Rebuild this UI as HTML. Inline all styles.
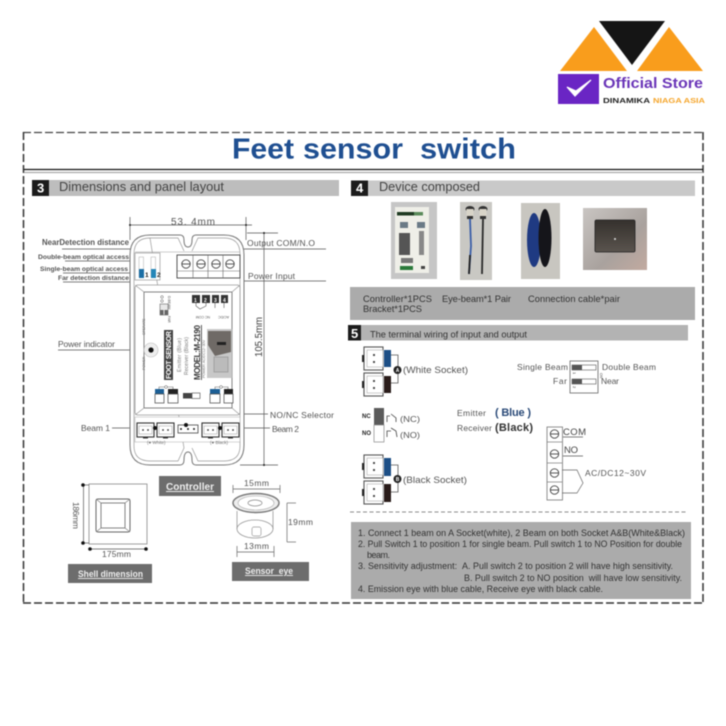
<!DOCTYPE html>
<html><head><meta charset="utf-8"><style>
html,body{margin:0;padding:0;background:#fff}
svg{display:block;filter:blur(.45px)}
text{font-family:"Liberation Sans",sans-serif;fill:#555}
</style></head><body>
<svg width="726" height="726" viewBox="0 0 726 726" xmlns="http://www.w3.org/2000/svg">
<defs>
<linearGradient id="st" x1="0" y1="0" x2="1" y2="1"><stop offset="0" stop-color="#c9c5c2"/><stop offset=".6" stop-color="#a9a29e"/><stop offset="1" stop-color="#c2aaa0"/></linearGradient>
<linearGradient id="wl" x1="0" y1="0" x2="0" y2="1"><stop offset="0" stop-color="#35312d"/><stop offset="1" stop-color="#5a544e"/></linearGradient>
<g id="sock"><rect x="0" y="0" width="17" height="14" fill="#fff" stroke="#333" stroke-width="1.1"/><rect x="2" y="3" width="13" height="8" fill="#fff" stroke="#999" stroke-width=".5"/><circle cx="6" cy="7" r=".9" fill="#333"/><circle cx="11" cy="7" r=".9" fill="#333"/><rect x="6" y="14" width="5" height="1.5" fill="#333"/></g>
<g id="sock2"><rect x="0" y="0" width="19" height="23" fill="#fff" stroke="#555" stroke-width="1.1"/><rect x="3" y="3" width="16" height="17" fill="#fff" stroke="#aaa" stroke-width=".6"/><circle cx="10" cy="8" r="1.1" fill="#444"/><circle cx="10" cy="15" r="1.1" fill="#444"/><rect x="-2" y="8" width="2" height="7" fill="#222"/></g>
<g id="scr"><circle r="4.2" fill="#fff" stroke="#444" stroke-width=".9"/><line x1="-4" x2="4" stroke="#444" stroke-width=".9"/></g>
</defs>

<!-- logo -->
<polygon points="560,71 594,27 627,71" fill="#f99d1c"/>
<polygon points="637,71 669,27 703,71" fill="#f99d1c"/>
<polygon points="599,21 665,21 632,65" fill="#151515"/>
<rect x="558" y="74" width="41" height="30" fill="#6a25c4"/>
<path d="M567,87 L575,96 L591,80 L576,91Z" fill="#fff" stroke="#fff" stroke-width="1.2"/>
<text x="603" y="88" font-size="15" font-weight="700" style="fill:#6a35b8" textLength="100" lengthAdjust="spacingAndGlyphs">Official Store</text>
<text x="603" y="103" font-size="7.500" font-weight="700" style="fill:#222" textLength="47" lengthAdjust="spacingAndGlyphs">DINAMIKA</text>
<text x="653" y="103" font-size="7.500" font-weight="700" style="fill:#f5a52a" textLength="52" lengthAdjust="spacingAndGlyphs">NIAGA ASIA</text>

<!-- frame -->
<line x1="23" y1="132.500" x2="703" y2="132.500" stroke="#444" stroke-width="1.300" stroke-dasharray="8 3"/>
<line x1="23" y1="603" x2="703" y2="603" stroke="#333" stroke-width="1.500" stroke-dasharray="8 3"/>
<line x1="23.500" y1="132" x2="23.500" y2="603" stroke="#333" stroke-width="1.500" stroke-dasharray="8 3"/>
<line x1="703" y1="132" x2="703" y2="603" stroke="#333" stroke-width="1.500" stroke-dasharray="8 3"/>
<line x1="24" y1="169.500" x2="703" y2="169.500" stroke="#111" stroke-width="1.300"/>
<line x1="24" y1="172.500" x2="703" y2="172.500" stroke="#aaa" stroke-width="1.300"/>
<g font-size="28.500" font-weight="700" style="fill:#1f4f91">
<text x="232" y="158.500" style="fill:#1f4f91" textLength="62" lengthAdjust="spacingAndGlyphs">Feet</text>
<text x="303" y="158.500" style="fill:#1f4f91" textLength="100" lengthAdjust="spacingAndGlyphs">sensor</text>
<text x="420" y="158.500" style="fill:#1f4f91" textLength="96" lengthAdjust="spacingAndGlyphs">switch</text>
</g>

<!-- section 3 -->
<rect x="49" y="180" width="290" height="16" fill="#bdbdbd"/>
<rect x="32" y="180" width="17" height="16" fill="#1c1c1c"/>
<text x="37" y="192.500" font-size="13" font-weight="700" style="fill:#fff">3</text>
<text x="59" y="191" font-size="12.500" textLength="165" lengthAdjust="spacingAndGlyphs" style="fill:#444">Dimensions and panel layout</text>

<!-- dim lines -->
<g stroke="#555" stroke-width=".7" fill="none">
<line x1="130" y1="225" x2="252" y2="225"/><line x1="130" y1="217" x2="130" y2="240"/><line x1="246" y1="217" x2="246" y2="240"/>
<line x1="247" y1="233" x2="278" y2="233"/><line x1="240" y1="465" x2="278" y2="465"/><line x1="264" y1="233" x2="264" y2="465"/>
<polyline points="62,249 153,249 153,258"/>
<polyline points="65,261 140,261"/>
<polyline points="63,273 140,273"/>
<polyline points="63,282 153,282 153,276"/>
<polyline points="193,249 326,249"/>
<polyline points="223,272 223,281 326,281"/>
<polyline points="58,350 148,350"/>
<polyline points="186,425 186,414 268,414"/>
<polyline points="112,428 154,428"/>
<polyline points="220,428 270,428"/>
</g>
<circle cx="130" cy="225" r="1" fill="#222"/><circle cx="246" cy="225" r="1" fill="#222"/><circle cx="264" cy="233" r="1" fill="#222"/><circle cx="264" cy="465" r="1" fill="#222"/>
<g font-weight="700">
<text x="42" y="245" font-size="8" textLength="87" lengthAdjust="spacingAndGlyphs">NearDetection distance</text>
<text x="38" y="259" font-size="6.600" textLength="91" lengthAdjust="spacingAndGlyphs">Double-beam optical access</text>
<text x="40" y="271" font-size="6.600" textLength="88" lengthAdjust="spacingAndGlyphs">Single-beam optical access</text>
<text x="58" y="280" font-size="6.600" textLength="71" lengthAdjust="spacingAndGlyphs">Far detection distance</text>
</g>
<text x="247" y="246" font-size="8.500" textLength="68">Output COM/N.O</text>
<text x="248" y="279" font-size="8.500" textLength="47">Power Input</text>
<text x="58" y="347" font-size="8.500" textLength="57">Power indicator</text>
<text x="270" y="418" font-size="8.500" textLength="64">NO/NC Selector</text>
<text x="81" y="431" font-size="8.500" textLength="29">Beam 1</text>
<text x="272" y="432" font-size="8.500" textLength="27">Beam 2</text>
<text x="171" y="225" font-size="10" textLength="44">53. 4mm</text>
<text transform="translate(262,357) rotate(-90)" font-size="10" textLength="40" lengthAdjust="spacingAndGlyphs" style="fill:#444">105.5mm</text>

<!-- controller -->
<path d="M150,235H180Q184,235 184,240Q184,247 188,247Q192,247 192,240Q192,235 196,235H224Q244,235 244,255V445Q244,465 224,465H196Q192,465 192,460Q192,452 188,452Q184,452 184,460Q184,465 180,465H150Q130,465 130,445V255Q130,235 150,235Z" fill="#fff" stroke="#777" stroke-width="1"/>
<path d="M150,238H178L184,251 M192,251 L198,238H224Q240,238 240,254V446Q240,461 224,461H198L192,448 M184,448L178,461H150Q134,461 134,446V254Q134,238 150,238Z" fill="none" stroke="#999" stroke-width=".7"/>
<line x1="135" y1="252" x2="240" y2="252" stroke="#999" stroke-width=".6"/>
<!-- dip -->
<rect x="135" y="253" width="25" height="27" fill="#fff" stroke="#999" stroke-width=".7"/>
<rect x="139" y="257" width="4.500" height="20" fill="#fff" stroke="#aaa" stroke-width=".5"/>
<rect x="151" y="257" width="4.500" height="20" fill="#fff" stroke="#aaa" stroke-width=".5"/>
<rect x="139" y="269" width="5" height="9" fill="#1c6fa5"/>
<rect x="151" y="269" width="5" height="9" fill="#2486b8"/>
<text x="145" y="277" font-size="6.500" font-weight="700" style="fill:#222">1</text>
<text x="157" y="277" font-size="6.500" font-weight="700" style="fill:#222">2</text>
<!-- terminal block -->
<rect x="177" y="255" width="63" height="23" fill="#fff" stroke="#444" stroke-width=".9"/>
<line x1="177" y1="271" x2="240" y2="271" stroke="#666" stroke-width=".6"/>
<line x1="193" y1="255" x2="193" y2="278" stroke="#666" stroke-width=".6"/>
<line x1="208" y1="255" x2="208" y2="278" stroke="#666" stroke-width=".6"/>
<line x1="223" y1="255" x2="223" y2="278" stroke="#666" stroke-width=".6"/>
<use href="#scr" x="186" y="264"/><use href="#scr" x="201" y="264"/><use href="#scr" x="216" y="264"/><use href="#scr" x="230" y="264"/>
<!-- panel -->
<path d="M137,285H238L240,287V413L238,415H137L135,413V287Z" fill="#fff" stroke="#999" stroke-width=".8"/>
<rect x="144" y="292" width="88" height="116" fill="#fff" stroke="#666" stroke-width=".8"/>
<g stroke="#999" stroke-width=".7"><line x1="135" y1="285" x2="144" y2="292"/><line x1="240" y1="285" x2="232" y2="292"/><line x1="135" y1="415" x2="144" y2="408"/><line x1="240" y1="415" x2="232" y2="408"/></g>
<!-- power led -->
<circle cx="151" cy="350" r="7" fill="#eee" stroke="#bbb" stroke-width=".6"/>
<circle cx="151" cy="350" r="2.600" fill="#111"/>
<!-- small switch -->
<circle cx="162" cy="297" r="1.300" fill="none" stroke="#555" stroke-width=".5"/><circle cx="162" cy="301" r="1.300" fill="none" stroke="#555" stroke-width=".5"/>
<rect x="160" y="304" width="8" height="11" fill="#e8e8e8" stroke="#666" stroke-width=".6"/>
<rect x="160" y="310" width="3.500" height="5" fill="#666"/><rect x="164.500" y="310" width="3.500" height="5" fill="#666"/>
<text transform="translate(168,296) rotate(90)" font-size="3.500" style="fill:#555">D.BEAM</text>
<text transform="translate(168,316) rotate(90)" font-size="3.500" style="fill:#555">FAR</text>
<!-- terminals -->
<g fill="#333"><rect x="192" y="295" width="8" height="8"/><rect x="202" y="295" width="8" height="8"/><rect x="212" y="295" width="7" height="8"/><rect x="221" y="295" width="7" height="8"/></g>
<g font-size="5" font-weight="700"><text x="194" y="302" style="fill:#fff">1</text><text x="204" y="302" style="fill:#fff">2</text><text x="214" y="302" style="fill:#fff">3</text><text x="223" y="302" style="fill:#fff">4</text></g>
<polyline points="196,303 196,306 200,309 206,306 206,303" fill="none" stroke="#555" stroke-width=".6"/>
<line x1="215" y1="303" x2="215" y2="308" stroke="#555" stroke-width=".6"/><line x1="224" y1="303" x2="224" y2="308" stroke="#555" stroke-width=".6"/>
<text transform="translate(210,316) rotate(180)" font-size="3.500" style="fill:#555">NC COM</text>
<text transform="translate(229,316) rotate(180)" font-size="3.500" style="fill:#555">AC/DC</text>
<!-- vertical text -->
<rect x="164" y="330" width="9" height="50" fill="#444"/>
<text transform="translate(171,379) rotate(-90)" font-size="7" font-weight="700" textLength="48" style="fill:#fff">FOOT SENSOR</text>
<text transform="translate(181,372) rotate(-90)" font-size="5" textLength="34" style="fill:#777">Emitter (Blue)</text>
<text transform="translate(188,375) rotate(-90)" font-size="5" textLength="38" style="fill:#777">Receiver (Black)</text>
<text transform="translate(200,380) rotate(-90)" font-size="8" font-weight="700" textLength="55" style="fill:#333;text-decoration:underline">MODEL:M-2190</text>
<text transform="translate(205,378) rotate(-90)" font-size="3.800" textLength="38" style="fill:#777">POWER: AC/DC12~30V</text>
<text transform="translate(145,335) rotate(-90)" font-size="3.500" style="fill:#666">OPERATE</text>
<text transform="translate(145,370) rotate(-90)" font-size="3.500" style="fill:#666">POWER</text>
<!-- panel photo -->
<rect x="207" y="329" width="25" height="49" fill="#c8c8c8"/>
<polygon points="208,331 231,331 231,352 215,356 208,345" fill="#6f6a66"/>
<rect x="217" y="342" width="9" height="3" fill="#222"/>
<rect x="214" y="357" width="14" height="15" fill="#bbb" stroke="#999" stroke-width=".8"/>
<!-- panel sockets -->
<rect x="155" y="389" width="9" height="5" fill="#1c5f95"/><rect x="168" y="389" width="10" height="5" fill="#222"/>
<rect x="210" y="389" width="10" height="5" fill="#1c5f95"/><rect x="224" y="389" width="9" height="5" fill="#222"/>
<rect x="155" y="394" width="9" height="9" fill="#fff" stroke="#444" stroke-width=".7"/><rect x="168" y="394" width="10" height="9" fill="#fff" stroke="#444" stroke-width=".7"/>
<rect x="210" y="394" width="10" height="9" fill="#fff" stroke="#444" stroke-width=".7"/><rect x="224" y="394" width="9" height="9" fill="#fff" stroke="#444" stroke-width=".7"/>
<polyline points="159,389 159,387 173,387 173,389" fill="none" stroke="#666" stroke-width=".6"/>
<polyline points="215,389 215,387 228,387 228,389" fill="none" stroke="#666" stroke-width=".6"/>
<circle cx="166" cy="387" r="1.400" fill="#fff" stroke="#555" stroke-width=".5"/><circle cx="221" cy="387" r="1.400" fill="#fff" stroke="#555" stroke-width=".5"/>
<rect x="183" y="393" width="9" height="5.500" fill="#444"/><rect x="192" y="393" width="8" height="5.500" fill="#fff" stroke="#444" stroke-width=".6"/>
<!-- bottom row -->
<rect x="135" y="417" width="105" height="25" fill="#fff" stroke="#aaa" stroke-width=".5"/>
<use href="#sock" x="137" y="423"/><use href="#sock" x="157" y="423"/><use href="#sock" x="202" y="423"/><use href="#sock" x="222" y="423"/>
<rect x="178" y="425" width="20" height="8" fill="#fff" stroke="#444" stroke-width=".8"/>
<circle cx="181" cy="429" r="1" fill="#222"/><circle cx="188" cy="429" r="1" fill="#222"/><circle cx="194" cy="429" r="1" fill="#222"/>
<circle cx="186" cy="425" r="2" fill="#111"/><circle cx="155" cy="428" r="2" fill="#111"/><circle cx="220" cy="428" r="2" fill="#111"/>
<text x="147" y="444" font-size="4.500" style="fill:#777">(&#9679; White)</text>
<text x="210" y="444" font-size="4.500" style="fill:#777">(&#9679; Black)</text>

<!-- labels -->
<rect x="159" y="476" width="62" height="20" fill="#6d6d6d"/>
<text x="166" y="490" font-size="10" font-weight="700" textLength="48" lengthAdjust="spacingAndGlyphs" style="fill:#eee;text-decoration:underline">Controller</text>
<rect x="68" y="564" width="84" height="19" fill="#6d6d6d"/>
<text x="78" y="577" font-size="9" font-weight="700" textLength="65" lengthAdjust="spacingAndGlyphs" style="fill:#eee;text-decoration:underline">Shell dimension</text>
<rect x="232" y="562" width="77" height="19" fill="#6d6d6d"/>
<text x="245" y="574" font-size="9" font-weight="700" textLength="48" lengthAdjust="spacingAndGlyphs" style="fill:#eee;text-decoration:underline">Sensor&#160;&#160;eye</text>

<!-- shell -->
<rect x="89" y="484" width="58" height="60" fill="#fff" stroke="#888" stroke-width=".8"/>
<rect x="96" y="499" width="34" height="33" rx="2" fill="#fff" stroke="#666" stroke-width="1"/>
<rect x="101" y="503" width="24" height="25" fill="#fff" stroke="#777" stroke-width=".9"/>
<g stroke="#777" stroke-width=".6"><line x1="96" y1="499" x2="101" y2="503"/><line x1="130" y1="499" x2="125" y2="503"/><line x1="96" y1="532" x2="101" y2="528"/><line x1="130" y1="532" x2="125" y2="528"/></g>
<g stroke="#555" stroke-width=".7"><line x1="83" y1="485" x2="89" y2="485"/><line x1="83" y1="543" x2="89" y2="543"/><line x1="83.500" y1="485" x2="83.500" y2="543"/><line x1="90" y1="549" x2="146" y2="549"/></g>
<circle cx="83" cy="485" r="1.800" fill="#111"/><circle cx="83" cy="543" r="1.800" fill="#111"/><circle cx="90" cy="549" r="1.800" fill="#111"/><circle cx="146" cy="549" r="1.800" fill="#111"/>
<text transform="translate(73,502) rotate(90)" font-size="8.500" textLength="27">186mm</text>
<text x="102" y="557" font-size="8.500" textLength="29">175mm</text>

<!-- sensor eye -->
<text x="244" y="486" font-size="8.500" textLength="25">15mm</text>
<line x1="233" y1="489" x2="280" y2="489" stroke="#666" stroke-width=".7"/>
<line x1="233" y1="485" x2="233" y2="493" stroke="#666" stroke-width=".7"/><line x1="280" y1="485" x2="280" y2="493" stroke="#666" stroke-width=".7"/>
<ellipse cx="255" cy="529" rx="18" ry="9" fill="#fff" stroke="#999" stroke-width=".8"/>
<line x1="237" y1="511" x2="237" y2="529" stroke="#999" stroke-width=".8"/><line x1="273" y1="511" x2="273" y2="529" stroke="#999" stroke-width=".8"/>
<rect x="252" y="527" width="9" height="9" rx="2" fill="#fff" stroke="#999" stroke-width=".7"/>
<ellipse cx="256" cy="503" rx="23" ry="9.500" fill="#eee" stroke="#777" stroke-width="1.400"/>
<ellipse cx="256" cy="503" rx="18" ry="7" fill="#fff" stroke="#aaa" stroke-width=".6"/>
<ellipse cx="255" cy="503" rx="7" ry="3" fill="#fff" stroke="#888" stroke-width=".7"/>
<g stroke="#666" stroke-width=".7"><line x1="287" y1="503" x2="296" y2="503"/><line x1="287" y1="542" x2="296" y2="542"/><line x1="287" y1="503" x2="287" y2="542"/><line x1="237" y1="552" x2="274" y2="552"/><line x1="237" y1="546" x2="237" y2="557"/><line x1="274" y1="546" x2="274" y2="557"/></g>
<text x="288" y="525" font-size="8.500" textLength="25">19mm</text>
<text x="244" y="549" font-size="8.500" textLength="25">13mm</text>

<!-- section 4 -->
<rect x="368" y="180.500" width="327" height="15.500" fill="#c9c9c9"/>
<rect x="351" y="180.500" width="17" height="15.500" fill="#1c1c1c"/>
<text x="356" y="192.500" font-size="13" font-weight="700" style="fill:#fff">4</text>
<text x="379" y="191" font-size="12.500" textLength="101" lengthAdjust="spacingAndGlyphs" style="fill:#444">Device composed</text>
<!-- photos -->
<rect x="391" y="202" width="46" height="77" fill="#c6c6c6"/>
<rect x="395" y="207" width="34" height="66" fill="#efefe8"/>
<rect x="397" y="212" width="17" height="3.500" fill="#1f3a22"/><rect x="414" y="212" width="9" height="3.500" fill="#5a8a5a"/>
<rect x="400" y="222" width="8" height="6" fill="#6a7a86"/><rect x="417" y="222" width="8" height="6" fill="#6a7a86"/>
<rect x="399" y="233" width="11" height="22" fill="#555"/><rect x="419" y="231" width="5" height="24" fill="#888"/>
<rect x="401" y="258" width="12" height="5" fill="#777"/><rect x="400" y="266" width="13" height="4" fill="#2a7a3a"/>
<rect x="421" y="266" width="4" height="3" fill="#444"/>
<rect x="460" y="202" width="32" height="78" fill="#c9c8c3"/>
<ellipse cx="470" cy="209" rx="4.500" ry="3" fill="#333"/><ellipse cx="483" cy="209" rx="4.500" ry="3" fill="#333"/>
<rect x="466.500" y="209" width="7" height="7" fill="#d8d4c8"/><rect x="479.500" y="209" width="7" height="7" fill="#d8d4c8"/>
<rect x="467" y="216" width="6" height="3" fill="#333"/><rect x="480" y="216" width="6" height="3" fill="#333"/>
<path d="M470,219L471,246L469,274" fill="none" stroke="#3a5ea8" stroke-width="1.800"/>
<path d="M470,255L469,274" fill="none" stroke="#222" stroke-width="1.800"/>
<path d="M483,219L482,274" fill="none" stroke="#2a2a2a" stroke-width="1.800"/>
<rect x="521" y="203" width="39" height="76" fill="#c8c6c0"/>
<ellipse cx="534" cy="240" rx="7" ry="27" fill="#1f3a82"/>
<ellipse cx="545" cy="238" rx="6.500" ry="29" fill="#15151a"/>
<rect x="583" y="208" width="64" height="62" fill="url(#st)"/>
<rect x="595" y="220" width="40" height="32" rx="1.500" fill="url(#wl)" stroke="#222" stroke-width=".8"/>
<circle cx="615" cy="239" r="1" fill="#ddd"/>
<!-- composed band -->
<rect x="350" y="287" width="345" height="33" fill="#ababab"/>
<text x="363" y="302" font-size="9.300" textLength="69" style="fill:#333">Controller*1PCS</text>
<text x="442" y="302" font-size="9.300" textLength="69" style="fill:#333">Eye-beam*1 Pair</text>
<text x="528" y="302" font-size="9.300" textLength="92" style="fill:#333">Connection cable*pair</text>
<text x="363" y="312" font-size="9.300" textLength="59" style="fill:#333">Bracket*1PCS</text>

<!-- section 5 -->
<rect x="361" y="325" width="327" height="15.500" fill="#b3b3b3"/>
<rect x="348" y="325" width="13" height="15.500" fill="#1c1c1c"/>
<text x="351" y="338" font-size="13" font-weight="700" style="fill:#fff">5</text>
<text x="370" y="337.500" font-size="9" textLength="157" lengthAdjust="spacingAndGlyphs" style="fill:#333">The terminal wiring of input and output</text>

<!-- sockets A/B -->
<use href="#sock2" x="364" y="347"/><use href="#sock2" x="364" y="373"/><use href="#sock2" x="364" y="455"/><use href="#sock2" x="364" y="481"/>
<rect x="384" y="350" width="7" height="17" fill="#1d4f86"/><rect x="384" y="376" width="7" height="17" fill="#2a1c1a"/>
<rect x="384" y="458" width="7" height="18" fill="#1d4f86"/><rect x="384" y="484" width="7" height="18" fill="#2a1c1a"/>
<polyline points="391,355 398,355 398,383 391,383" fill="none" stroke="#555" stroke-width=".8"/>
<polyline points="391,465 398,465 398,492 391,492" fill="none" stroke="#555" stroke-width=".8"/>
<circle cx="397.500" cy="370" r="4" fill="#222"/><circle cx="397.500" cy="479" r="4" fill="#222"/>
<text x="395.700" y="372" font-size="5" font-weight="700" style="fill:#fff">A</text>
<text x="395.700" y="481" font-size="5" font-weight="700" style="fill:#fff">B</text>
<text x="403" y="373" font-size="9.500" textLength="65" lengthAdjust="spacingAndGlyphs">(White Socket)</text>
<text x="403" y="483" font-size="9.500" textLength="64" lengthAdjust="spacingAndGlyphs">(Black Socket)</text>

<!-- NC NO -->
<text x="362" y="418" font-size="6" font-weight="700" style="fill:#222">NC</text>
<text x="362" y="435" font-size="6" font-weight="700" style="fill:#222">NO</text>
<rect x="374" y="408" width="10" height="17" fill="#5b5b5b"/>
<rect x="374" y="425" width="10" height="17" fill="#fff" stroke="#888" stroke-width=".7"/>
<g fill="none" stroke="#444" stroke-width=".8"><polyline points="387,422 387,416 390,416"/><polyline points="391,414 396,418 396,422"/>
<polyline points="387,437 387,431 391,431"/><polyline points="391,428 396,431 397,437"/></g>
<text x="400" y="422" font-size="8.500" textLength="20" lengthAdjust="spacingAndGlyphs">(NC)</text>
<text x="400" y="438" font-size="8.500" textLength="20" lengthAdjust="spacingAndGlyphs">(NO)</text>
<text x="457" y="416" font-size="8.500" textLength="29">Emitter</text>
<text x="457" y="431" font-size="8.500" textLength="35">Receiver</text>
<text x="495" y="416" font-size="11" font-weight="700" style="fill:#2a4a78" textLength="36">( Blue )</text>
<text x="495" y="431" font-size="11" font-weight="700" style="fill:#333" textLength="38">(Black)</text>

<!-- DIP -->
<text x="517" y="370" font-size="8.500" textLength="51">Single Beam</text>
<text x="553" y="384" font-size="8.500" textLength="14">Far</text>
<rect x="570" y="361" width="28" height="32" fill="#fff" stroke="#666" stroke-width=".8"/>
<rect x="572" y="365" width="24" height="5" fill="#fff" stroke="#555" stroke-width=".6"/><rect x="572" y="365" width="10" height="5" fill="#555"/>
<rect x="572" y="379" width="24" height="5" fill="#fff" stroke="#555" stroke-width=".6"/><rect x="572" y="379" width="10" height="5" fill="#555"/>
<text transform="translate(573,372) rotate(90)" font-size="4" style="fill:#333">1</text>
<text transform="translate(573,386) rotate(90)" font-size="4" style="fill:#333">2</text>
<text transform="translate(600,373) rotate(90)" font-size="3.500" style="fill:#555">ON</text>
<text x="602" y="370" font-size="8.500" textLength="54">Double Beam</text>
<text x="601" y="384" font-size="8.500" textLength="18">Near</text>

<!-- terminal wiring -->
<rect x="547" y="427" width="15.500" height="73" fill="#fff" stroke="#777" stroke-width=".8"/>
<line x1="547" y1="442" x2="562" y2="442" stroke="#777" stroke-width=".7"/><line x1="547" y1="463" x2="562" y2="463" stroke="#777" stroke-width=".7"/><line x1="547" y1="482" x2="562" y2="482" stroke="#777" stroke-width=".7"/>
<use href="#scr" x="554.500" y="434"/><use href="#scr" x="554.500" y="454"/><use href="#scr" x="554.500" y="473"/><use href="#scr" x="554.500" y="490"/>
<text x="563" y="435" font-size="9.500" textLength="23" style="fill:#444">COM</text>
<text x="564" y="453" font-size="9.500" textLength="14" style="fill:#444">NO</text>
<line x1="563" y1="437" x2="583" y2="437" stroke="#555" stroke-width=".8"/><line x1="563" y1="456" x2="583" y2="456" stroke="#555" stroke-width=".8"/>
<polyline points="562,470 577,470 583,483 577,493 562,493" fill="none" stroke="#666" stroke-width=".7"/>
<text x="585" y="476" font-size="8.500" textLength="61">AC/DC12~30V</text>

<!-- instructions -->
<line x1="350" y1="512" x2="688" y2="512" stroke="#666" stroke-width=".8" stroke-dasharray="4 2.500"/>
<rect x="351" y="522" width="340" height="77" fill="#ababab"/>
<g font-size="9" style="fill:#333">
<text x="358" y="536" textLength="327" lengthAdjust="spacingAndGlyphs" style="fill:#333">1. Connect 1 beam on A Socket(white), 2 Beam on both Socket A&amp;B(White&amp;Black)</text>
<text x="358" y="547" textLength="324" lengthAdjust="spacingAndGlyphs" style="fill:#333">2. Pull Switch 1 to position 1 for single beam. Pull switch 1 to NO Position for double</text>
<text x="367" y="558" textLength="23" style="fill:#333">beam.</text>
<text x="358" y="569" textLength="315" lengthAdjust="spacingAndGlyphs" style="fill:#333">3. Sensitivity adjustment:&#160;&#160;A. Pull switch 2 to position 2 will have high sensitivity.</text>
<text x="464" y="581" textLength="218" lengthAdjust="spacingAndGlyphs" style="fill:#333">B. Pull switch 2 to NO position&#160;&#160;will have low sensitivity.</text>
<text x="358" y="592" textLength="245" lengthAdjust="spacingAndGlyphs" style="fill:#333">4. Emission eye with blue cable, Receive eye with black cable.</text>
</g>
</svg>
</body></html>
